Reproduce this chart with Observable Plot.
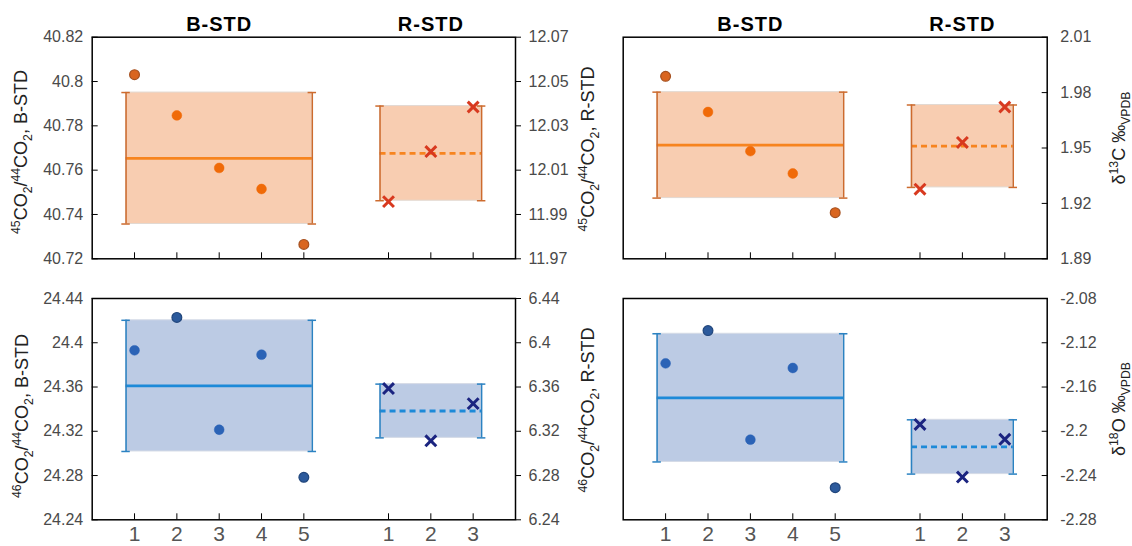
<!DOCTYPE html>
<html><head><meta charset="utf-8">
<script src="https://cdn.jsdelivr.net/npm/d3@7"></script>
<script src="https://cdn.jsdelivr.net/npm/@observablehq/plot@0.6"></script>
<style>
body{margin:0;background:#fff;}
#chart{position:relative;width:1132px;height:546px;font-family:"Liberation Sans",Arial,sans-serif;overflow:hidden;}
#chart svg{position:absolute;left:0;top:0;}
#chart svg g[aria-label="text"] text{letter-spacing:1px;}
.ylab{position:absolute;white-space:nowrap;font-size:18px;color:#222;transform:translate(-50%,-50%) rotate(-90deg);line-height:1;}
.ylab sup,.ylab sub{font-size:0.68em;line-height:0;}
</style></head>
<body><div id="chart"></div>
<script>
// ---- data ----
const xDomain = [0, 10];
const xTicks = [1, 2, 3, 4, 5, 7, 8, 9];
const xTickLabels = ["1", "2", "3", "4", "5", "1", "2", "3"];
const groupTitles = ["B-STD", "R-STD"];
const groupCenters = [3, 8];
const bPos = [1, 2, 3, 4, 5];
const rPos = [7, 8, 9];
const bSpan = [0.8, 5.2];
const rSpan = [6.8, 9.2];

const b45 = [40.8031, 40.7847, 40.7610, 40.7515, 40.7265];
const r45 = [11.9958, 12.0184, 12.0385];
const b13C = [1.9888, 1.9695, 1.9483, 1.9362, 1.9150];
const r13C = [1.9277, 1.9530, 1.9722];
const b46 = [24.3932, 24.4229, 24.3214, 24.3892, 24.2784];
const r46 = [6.3586, 6.3114, 6.3450];
const b18O = [-2.1386, -2.1090, -2.2076, -2.1428, -2.2510];
const r18O = [-2.1938, -2.2414, -2.2073];

const ticks45B = [40.72, 40.74, 40.76, 40.78, 40.8, 40.82];
const ticks45R = [11.97, 11.99, 12.01, 12.03, 12.05, 12.07];
const ticks13C = [1.89, 1.92, 1.95, 1.98, 2.01];
const ticks46B = [24.24, 24.28, 24.32, 24.36, 24.4, 24.44];
const ticks46R = [6.24, 6.28, 6.32, 6.36, 6.4, 6.44];
const ticks18O = [-2.28, -2.24, -2.2, -2.16, -2.12, -2.08];

// ---- styles ----
const W = 1132, H = 546;
const orange = {box: "#f8cdb1", edge: "#e2d9d2", mean: "#f7841f", err: "#cd6b2e", dot: "#f06a08", dotOut: "#d9651f", dotEdge: "#a5501f", cross: "#d8391f"};
const blue = {box: "#bccbe4", edge: "#d5dbe6", mean: "#1d8ad8", err: "#2b82c2", dot: "#2b63b6", dotOut: "#2c5a9c", dotEdge: "#21467c", cross: "#1b2480"};
const geoms = {
  TL: {l: 91.7, r: 515, t: 36.7, b: 258.3},
  TR: {l: 622.7, r: 1046.7, t: 36.7, b: 258.3},
  BL: {l: 91.7, r: 515, t: 298, b: 519.3},
  BR: {l: 622.7, r: 1046.7, t: 298, b: 519.3}
};
const fmt = d => String(d);

function seriesMarks(pos, vals, span, pal, cross) {
  const mean = d3.mean(vals), sd = d3.deviation(vals);
  const stat = [{x1: span[0], x2: span[1], lo: mean - sd, hi: mean + sd, mean}];
  const ends = span.map(x => ({x, lo: mean - sd, hi: mean + sd}));
  const caps = ends.flatMap(e => [
    {x1: e.x - 0.1, x2: e.x + 0.1, y: e.lo},
    {x1: e.x - 0.1, x2: e.x + 0.1, y: e.hi}
  ]);
  const pts = vals.map((v, i) => ({x: pos[i], y: v, out: Math.abs(v - mean) > sd}));
  const marks = [
    Plot.rect(stat, {x1: "x1", x2: "x2", y1: "lo", y2: "hi", fill: pal.box, stroke: pal.edge, strokeWidth: 1}),
    Plot.ruleY(stat, cross
      ? {y: "mean", x1: "x1", x2: "x2", stroke: pal.mean, strokeWidth: 2.8, strokeDasharray: "6,4"}
      : {y: "mean", x1: "x1", x2: "x2", stroke: pal.mean, strokeWidth: 2.8}),
    Plot.ruleX(ends, {x: "x", y1: "lo", y2: "hi", stroke: pal.err, strokeWidth: 1.5}),
    Plot.ruleY(caps, {y: "y", x1: "x1", x2: "x2", stroke: pal.err, strokeWidth: 1.5})
  ];
  if (cross) {
    marks.push(Plot.dot(pts, {x: "x", y: "y", symbol: "times", r: 5, stroke: pal.cross, strokeWidth: 3}));
  } else {
    marks.push(Plot.dot(pts.filter(d => !d.out), {x: "x", y: "y", r: 4.9, fill: pal.dot, stroke: pal.dot, strokeWidth: 0.5}));
    marks.push(Plot.dot(pts.filter(d => d.out), {x: "x", y: "y", r: 4.9, fill: pal.dotOut, stroke: pal.dotEdge, strokeWidth: 1.2}));
  }
  return marks;
}

function layer(g, yDomain, marks) {
  return Plot.plot({
    width: W, height: H,
    marginLeft: g.l, marginRight: W - g.r, marginTop: g.t, marginBottom: H - g.b,
    x: {domain: xDomain, axis: null},
    y: {domain: yDomain, axis: null},
    style: {background: "transparent", overflow: "visible", fontFamily: "'Liberation Sans', Arial, sans-serif"},
    marks
  });
}

function xAxis(withLabels) {
  return Plot.axisX(xTicks, {
    anchor: "bottom", tickSize: -6, tickPadding: 12, label: null,
    tickFormat: d => xTickLabels[xTicks.indexOf(d)],
    fontSize: 21, stroke: "black", fill: withLabels ? "#555" : "none"
  });
}
function yAxis(ticks, anchor, tickSize, tickPadding) {
  return Plot.axisY(ticks, {anchor, tickSize, tickPadding, tickFormat: fmt, label: null, fontSize: 16, stroke: "black", fill: "#4a4a4a"});
}
function titles() {
  return Plot.text(groupTitles, {x: (d, i) => groupCenters[i], text: d => d, frameAnchor: "top", lineAnchor: "middle", dy: -13, fontSize: 20, fontWeight: "bold", fill: "black"});
}
const frame = () => Plot.frame({stroke: "black", strokeWidth: 1.5});
const dom = t => [t[0], t[t.length - 1]];

const chart = document.getElementById("chart");
const layers = [
  layer(geoms.TL, dom(ticks45B), [
    ...seriesMarks(bPos, b45, bSpan, orange, false),
    yAxis(ticks45B, "left", -6, 15), xAxis(false), titles(), frame()
  ]),
  layer(geoms.TL, dom(ticks45R), [
    ...seriesMarks(rPos, r45, rSpan, orange, true),
    yAxis(ticks45R, "right", 5, 8)
  ]),
  layer(geoms.TR, dom(ticks13C), [
    ...seriesMarks(bPos, b13C, bSpan, orange, false),
    ...seriesMarks(rPos, r13C, rSpan, orange, true),
    yAxis(ticks13C, "right", -6, 19), xAxis(false), titles(), frame()
  ]),
  layer(geoms.BL, dom(ticks46B), [
    ...seriesMarks(bPos, b46, bSpan, blue, false),
    yAxis(ticks46B, "left", -6, 15), xAxis(true), frame()
  ]),
  layer(geoms.BL, dom(ticks46R), [
    ...seriesMarks(rPos, r46, rSpan, blue, true),
    yAxis(ticks46R, "right", 5, 8)
  ]),
  layer(geoms.BR, dom(ticks18O), [
    ...seriesMarks(bPos, b18O, bSpan, blue, false),
    ...seriesMarks(rPos, r18O, rSpan, blue, true),
    yAxis(ticks18O, "right", -6, 19), xAxis(true), frame()
  ])
];
layers.forEach(s => chart.appendChild(s));

const yLabels = [
  {x: 21, y: 152, html: "<sup>45</sup>CO<sub>2</sub>/<sup>44</sup>CO<sub>2</sub>, B-STD"},
  {x: 588, y: 149, html: "<sup>45</sup>CO<sub>2</sub>/<sup>44</sup>CO<sub>2</sub>, R-STD"},
  {x: 1119, y: 138, html: "δ<sup>13</sup>C ‰<sub>VPDB</sub>"},
  {x: 22, y: 416, html: "<sup>46</sup>CO<sub>2</sub>/<sup>44</sup>CO<sub>2</sub>, B-STD"},
  {x: 588, y: 410, html: "<sup>46</sup>CO<sub>2</sub>/<sup>44</sup>CO<sub>2</sub>, R-STD"},
  {x: 1119, y: 409, html: "δ<sup>18</sup>O ‰<sub>VPDB</sub>"}
];
yLabels.forEach(l => {
  const d = document.createElement("div");
  d.className = "ylab";
  d.style.left = l.x + "px";
  d.style.top = l.y + "px";
  d.innerHTML = l.html;
  chart.appendChild(d);
});
</script>
</body></html>
